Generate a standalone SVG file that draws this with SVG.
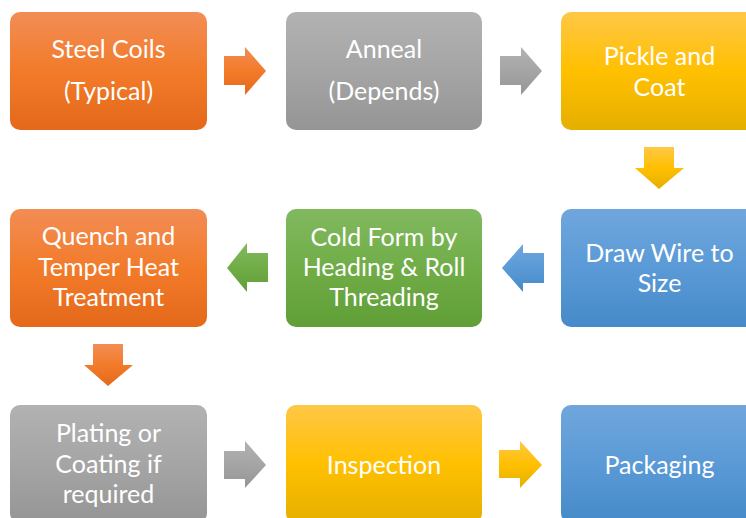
<svg xmlns="http://www.w3.org/2000/svg" width="746" height="518" viewBox="0 0 746 518">
<defs>
<linearGradient id="gO" x1="0" y1="0" x2="0" y2="1"><stop offset="0" stop-color="#F28D55"/><stop offset="0.5" stop-color="#F27B2A"/><stop offset="1" stop-color="#E4691A"/></linearGradient>
<linearGradient id="gG" x1="0" y1="0" x2="0" y2="1"><stop offset="0" stop-color="#B2B2B2"/><stop offset="0.5" stop-color="#A5A5A5"/><stop offset="1" stop-color="#959595"/></linearGradient>
<linearGradient id="gY" x1="0" y1="0" x2="0" y2="1"><stop offset="0" stop-color="#FFC747"/><stop offset="0.5" stop-color="#FFC000"/><stop offset="1" stop-color="#E5AF00"/></linearGradient>
<linearGradient id="gB" x1="0" y1="0" x2="0" y2="1"><stop offset="0" stop-color="#70A6DD"/><stop offset="0.5" stop-color="#5A9AD6"/><stop offset="1" stop-color="#468AC9"/></linearGradient>
<linearGradient id="gV" x1="0" y1="0" x2="0" y2="1"><stop offset="0" stop-color="#82B960"/><stop offset="0.5" stop-color="#70AD47"/><stop offset="1" stop-color="#609E36"/></linearGradient>
</defs>
<style>
text{font-family:Lato,"Open Sans","Liberation Sans",sans-serif;font-size:25px;fill:#ffffff;text-anchor:middle}
</style>
<g id="connectors">
<path d="M224,56 H245 V47 L266,71 L245,95 V85 H224 Z" fill="url(#gO)"/>
<path d="M500,56 H521 V47 L542,71 L521,95 V85 H500 Z" fill="url(#gG)"/>
<path d="M644,147 H674 V168 H684 L659,189 L635,168 H644 Z" fill="url(#gY)"/>
<path d="M544,253 H523 V244 L502,268 L523,292 V283 H544 Z" fill="url(#gB)"/>
<path d="M268,253 H247 V243 L227,268 L247,292 V282 H268 Z" fill="url(#gV)"/>
<path d="M93,344 H123 V365 H133 L108,386 L84,365 H93 Z" fill="url(#gO)"/>
<path d="M224,451 H245 V441 L266,465 L245,488 V479 H224 Z" fill="url(#gG)"/>
<path d="M499,450 H520 V441 L542,465 L520,488 V478 H499 Z" fill="url(#gY)"/>
</g>
<g id="n1"><rect x="10" y="12" width="197" height="118" rx="10" fill="url(#gO)"/><text x="108.5" y="58">Steel Coils</text><text x="108.5" y="100">(Typical)</text></g>
<g id="n2"><rect x="286" y="12" width="196" height="118" rx="10" fill="url(#gG)"/><text x="384" y="58">Anneal</text><text x="384" y="100">(Depends)</text></g>
<g id="n3"><rect x="561" y="12" width="197" height="118" rx="10" fill="url(#gY)"/><text x="659.5" y="65">Pickle and</text><text x="659.5" y="96">Coat</text></g>
<g id="n4"><rect x="561" y="209" width="197" height="118" rx="10" fill="url(#gB)"/><text x="659.5" y="262">Draw Wire to</text><text x="659.5" y="292">Size</text></g>
<g id="n5"><rect x="286" y="209" width="196" height="118" rx="10" fill="url(#gV)"/><text x="384" y="246">Cold Form by</text><text x="384" y="276">Heading &amp; Roll</text><text x="384" y="306">Threading</text></g>
<g id="n6"><rect x="10" y="209" width="197" height="118" rx="10" fill="url(#gO)"/><text x="108.5" y="245">Quench and</text><text x="108.5" y="276">Temper Heat</text><text x="108.5" y="306">Treatment</text></g>
<g id="n7"><rect x="10" y="405" width="197" height="118" rx="10" fill="url(#gG)"/><text x="108.5" y="442">Plating or</text><text x="108.5" y="473">Coating if</text><text x="108.5" y="503">required</text></g>
<g id="n8"><rect x="286" y="405" width="196" height="118" rx="10" fill="url(#gY)"/><text x="384" y="474">Inspection</text></g>
<g id="n9"><rect x="561" y="405" width="197" height="118" rx="10" fill="url(#gB)"/><text x="659.5" y="474">Packaging</text></g>
</svg>
